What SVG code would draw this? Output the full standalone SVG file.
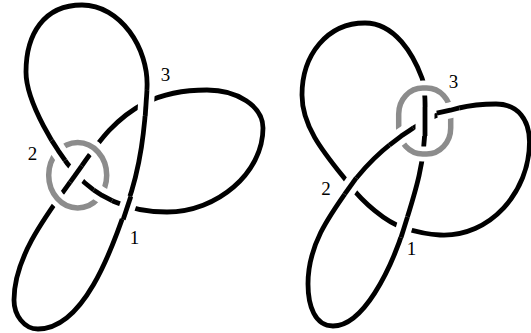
<svg xmlns="http://www.w3.org/2000/svg" width="531" height="333" viewBox="0 0 531 333">
<style>
.k{fill:none;stroke:#000;stroke-width:4.8;stroke-linecap:butt;stroke-linejoin:round}
.h{fill:none;stroke:#fff;stroke-width:16;stroke-linecap:butt}
.hc{fill:none;stroke:#fff;stroke-width:19;stroke-linecap:butt}
.rh{fill:none;stroke:#fff;stroke-width:15}
.r{fill:none;stroke:#8c8c8c;stroke-width:5.5}
.lbl{font-family:"Liberation Serif","Times New Roman",serif;font-size:19px;fill:#000;text-anchor:middle}
</style>
<rect width="531" height="333" fill="#fff"/>
<g id="knot-left">
<path class="k" d="M76,174 C56,151.5 26,102 26,72 C26,34 44,5 82,5 C120,5 149,48 147,88 C145,128 140.7,167.1 127,205 C111.15,252.4 83,329 38,329 C24,329 14,315 14,300 C14,255 49.9,210.5 76,174 C96.3,145.7 112,120 145,103 C164.6,93.1 185,90 207,90 C237,90 263,106 263,128 C263,173 217,212 167,212 C127,212 95.8,196.5 76,174 Z"/>
<g id="left-crossing-3">
<line class="h" x1="147" y1="90" x2="145.2" y2="116"/>
<line class="k" x1="147" y1="90" x2="145.2" y2="116"/>
</g>
<g id="left-crossing-1">
<line class="h" x1="130.8" y1="196.6" x2="123.2" y2="219.4"/>
<line class="k" x1="130.8" y1="196.6" x2="123.2" y2="219.4"/>
</g>
<g id="left-crossing-2">
<line class="hc" x1="70.2" y1="182.1" x2="81.8" y2="165.9"/>
<line class="k" x1="70.2" y1="182.1" x2="81.8" y2="165.9"/>
<ellipse class="rh" cx="77.7" cy="175.3" rx="29" ry="32.7"/>
<ellipse class="r" cx="77.7" cy="175.3" rx="29" ry="32.7"/>
<polyline class="h" points="65.1,160.4 58.4,150.8 51.7,140.4"/>
<polyline class="k" points="65.1,160.4 58.4,150.8 51.7,140.4"/>
<polyline class="h" points="112.1,200.6 102.1,195.4 93.7,190"/>
<polyline class="k" points="112.1,200.6 102.1,195.4 93.7,190"/>
</g>
<text class="lbl" x="165.5" y="81">3</text>
<text class="lbl" x="32.5" y="160">2</text>
<text class="lbl" x="134.5" y="244">1</text>
</g>
<g id="knot-right">
<path class="k" d="M425,122 C425,162 416.1,189.9 404,228 C390.4,270.9 363,326 333,326 C315,326 308,306 308,284 C308,244 330.2,214.5 350.5,186 C370.8,157.5 398.9,135.7 425,121 C446.75,108.75 471,104 496,104 C518,104 529.5,120 529.5,142 C529.5,192 490,237.5 440,235 C428,234.4 415.4,231.6 404,228 C385,222 362.8,201.8 350.5,186 C329,158.4 302,130 302,95 C302,55 327,23 365,23 C395,23 413.25,54.5 422,78 C426.2,89.3 425,107 425,122 Z"/>
<g id="right-crossing-2">
<line class="h" x1="344.7" y1="194.15" x2="356.3" y2="177.85"/>
<line class="k" x1="344.7" y1="194.15" x2="356.3" y2="177.85"/>
</g>
<g id="right-crossing-1">
<line class="h" x1="407.5" y1="216.9" x2="401" y2="237.5"/>
<line class="k" x1="407.5" y1="216.9" x2="401" y2="237.5"/>
</g>
<g id="right-crossing-3">
<line class="hc" x1="425" y1="107" x2="425" y2="136"/>
<line class="k" x1="425" y1="107" x2="425" y2="136"/>
<rect class="rh" x="398.7" y="88" width="52" height="66" rx="24" ry="26"/>
<rect class="r" x="398.7" y="88" width="52" height="66" rx="24" ry="26"/>
<polyline class="h" points="389.4,145.1 401.2,136.1 409.2,130.7 413.2,128.1"/>
<polyline class="k" points="389.4,145.1 401.2,136.1 409.2,130.7 413.2,128.1"/>
<polyline class="h" points="436.8,113.2 450.4,110.2 459.3,107.9"/>
<polyline class="k" points="436.8,113.2 450.4,110.2 459.3,107.9"/>
</g>
<text class="lbl" x="453.5" y="87.5">3</text>
<text class="lbl" x="326" y="195">2</text>
<text class="lbl" x="411.5" y="255">1</text>
</g>
</svg>
